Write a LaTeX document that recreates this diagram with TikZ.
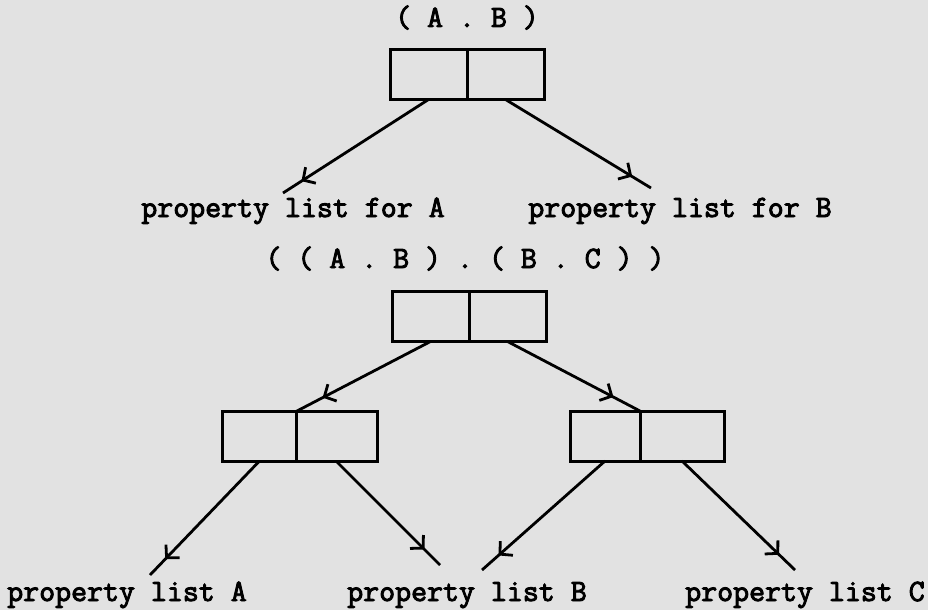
\documentclass[tikz,border=0pt]{standalone}
\usepackage{fontspec}
\newfontfamily\typer{Latin Modern Mono}[FakeBold=3]
\usetikzlibrary{positioning,arrows.meta,decorations.markings}
\definecolor{paper}{RGB}{226,226,226}
\tikzset{
	cell/.style={draw,line width=3pt,minimum width=77pt,minimum height=50pt,inner sep=0pt,outer sep=0pt},
	lbl/.style={anchor=base,inner sep=0pt,font=\fontsize{31}{34}\selectfont\typer},
	ptr/.style={line width=2.8pt,decoration={markings,mark=at position -#1 with {\arrow{Straight Barb[length=9pt,width=19pt]}}},postaction={decorate}},
	ptr/.default=22pt
}
\begin{document}
\begin{tikzpicture}[x=1pt,y=-1pt]
		\fill[paper] (0,0) rectangle (928,610);
		\useasboundingbox (0,0) rectangle (928,610);
		% (A . B)
		\node[lbl] (T1) at (467,27) {( A . B )};
		\node[cell] (AB) at (428.5,74.5) {};
		\node[cell,right=0pt of AB] (ABd) {};
		\node[lbl] (PA) at (293,217) {property list for A};
		\node[lbl] (PB) at (680,217) {property list for B};
		\coordinate (EA) at (283,193);
		\coordinate (EB) at (651,188);
		\draw[ptr] (AB.south) to (EA);
		\draw[ptr] (ABd.south) to (EB);
		% ((A . B) . (B . C))
		\node[lbl] (T2) at (465,268) {( ( A . B ) . ( B . C ) )};
		\node[cell] (R) at (430.5,316.5) {};
		\node[cell,right=0pt of R] (Rd) {};
		\node[cell,minimum width=74pt] (L1) at (259,436.5) {};
		\node[cell,minimum width=81pt,right=0pt of L1] (L1d) {};
		\node[cell,minimum width=70pt] (L2) at (605,436) {};
		\node[cell,minimum width=84pt,right=0pt of L2] (L2d) {};
		\draw[ptr=30pt] (R.south) to (L1.north east);
		\draw[ptr=30pt] (Rd.south) to (L2.north east);
		\node[lbl] (QA) at (127,601) {property list A};
		\node[lbl] (QB) at (467,601) {property list B};
		\node[lbl] (QC) at (805,601) {property list C};
		\coordinate (FA) at (150,575);
		\coordinate (FB) at (440,565);
		\coordinate (GB) at (482,570);
		\coordinate (GC) at (795,570);
		\draw[ptr] (L1.south) to (FA);
		\draw[ptr] (L1d.south) to (FB);
		\draw[ptr] (L2.south) to (GB);
		\draw[ptr] (L2d.south) to (GC);
\end{tikzpicture}
\end{document}
